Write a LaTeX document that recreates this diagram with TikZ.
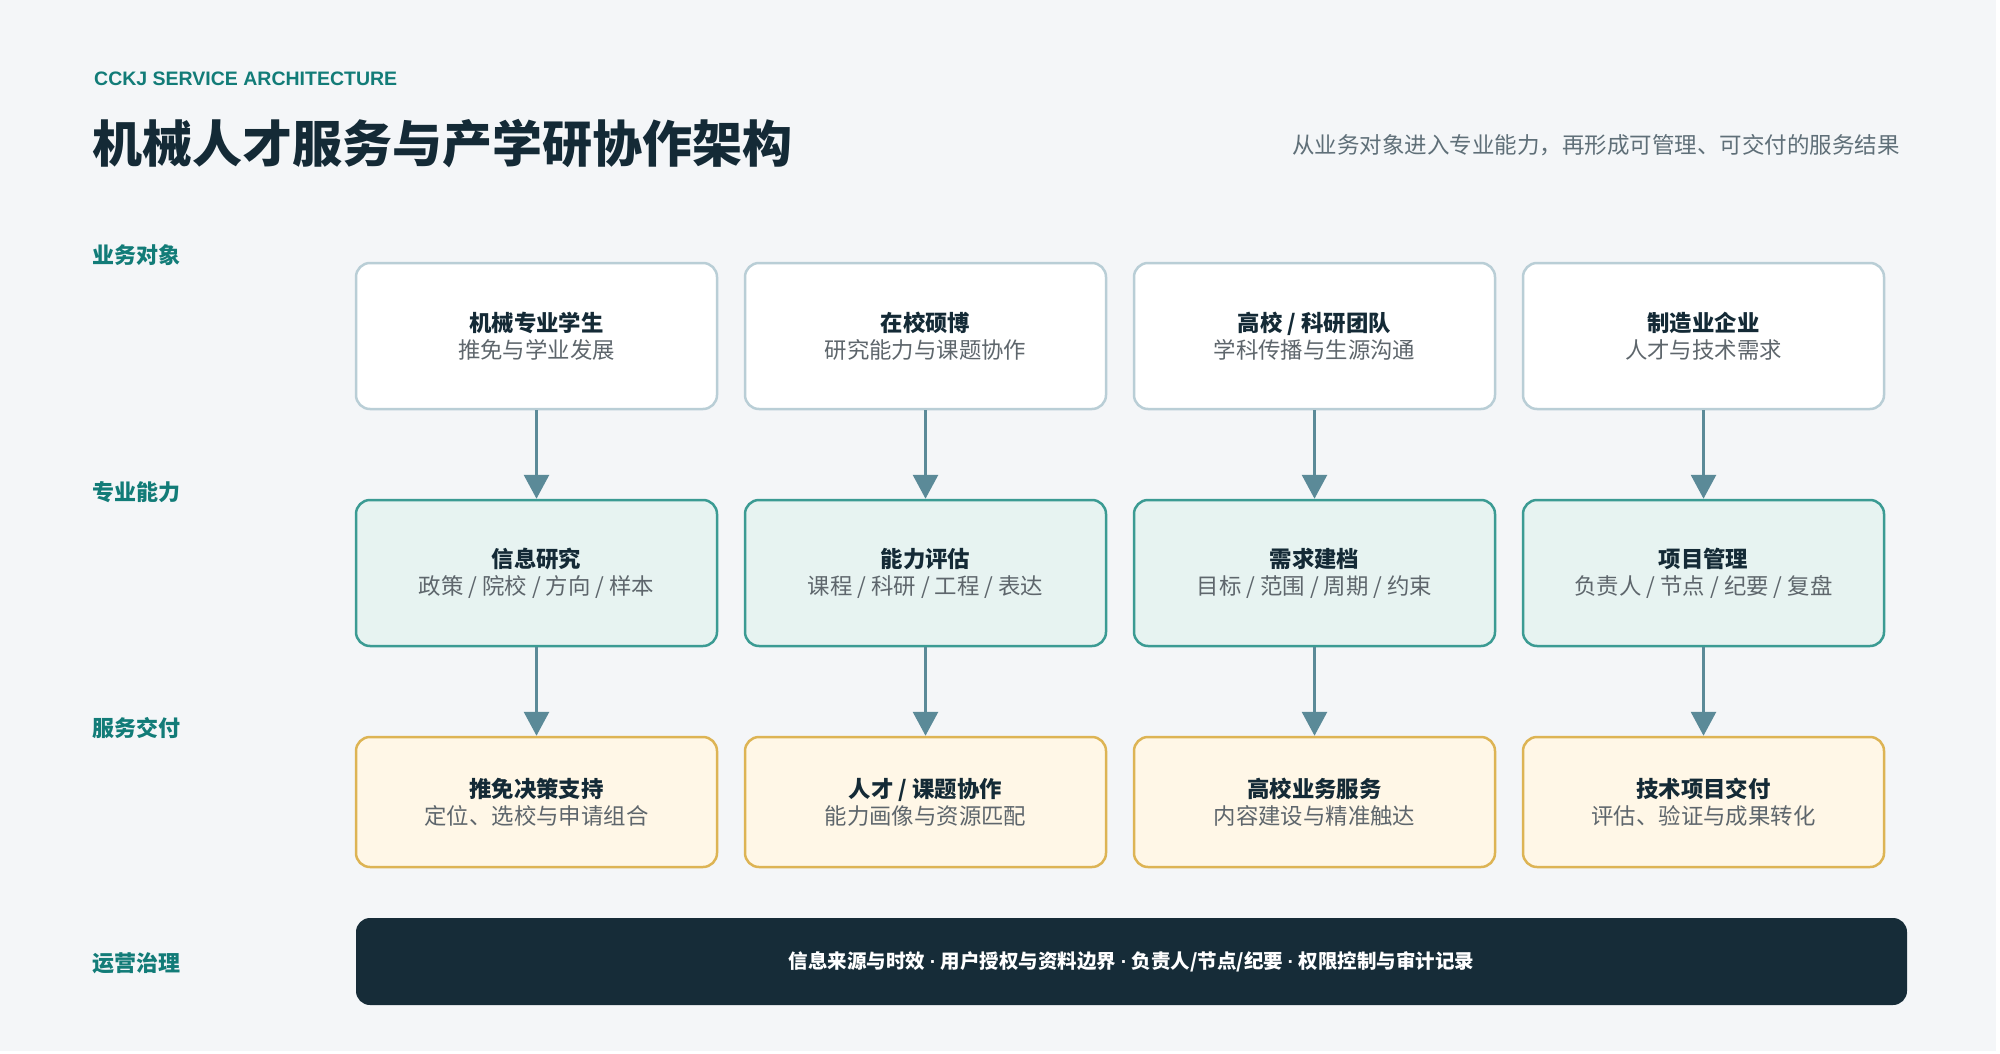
\documentclass[tikz,border=0pt]{standalone}
\usepackage{fontspec}
\setmainfont{Noto Sans CJK SC}
\newfontfamily\latinsans{Liberation Sans}
\usetikzlibrary{arrows.meta}
\definecolor{bgc}{HTML}{F4F6F8}
\definecolor{tealtxt}{HTML}{127C78}
\definecolor{ink}{HTML}{142A36}
\definecolor{subgray}{HTML}{5F6F78}
\definecolor{boxsub}{HTML}{5E666C}
\definecolor{objdraw}{HTML}{B9CED6}
\definecolor{capdraw}{HTML}{3B9B93}
\definecolor{capfill}{HTML}{E7F3F1}
\definecolor{deldraw}{HTML}{DDB454}
\definecolor{delfill}{HTML}{FFF7E7}
\definecolor{arrc}{HTML}{5B8A98}
\definecolor{barfill}{HTML}{162C38}
\tikzset{
  basebox/.style={line width=2.5pt, rounded corners=14pt, minimum width=361pt, inner sep=0pt, align=center, font=\fontsize{22.4}{27}\selectfont},
  objbox/.style={basebox, draw=objdraw, fill=white, minimum height=146pt},
  capbox/.style={basebox, draw=capdraw, fill=capfill, minimum height=146pt},
  delbox/.style={basebox, draw=deldraw, fill=delfill, minimum height=130pt},
  rowlabel/.style={anchor=west, text=tealtxt, font=\fontsize{22}{26}\selectfont\bfseries, inner sep=0pt},
  flowarrow/.style={draw=arrc, line width=3pt, -{Triangle[length=24pt,width=25pt]}},
}
\newcommand{\boxtext}[2]{{\bfseries\color{ink}#1}\\{\color{boxsub}#2}}
\newcommand{\sepdot}{\ {\latinsans\char"00B7}\ }
\begin{document}
\begin{tikzpicture}[x=1pt,y=-1pt]
\path[use as bounding box, fill=white] (0,0) rectangle (2000,1054);
\fill[bgc] (0,0) rectangle (1996,1051);
% header
\node[anchor=west, inner sep=0pt, text=tealtxt, font=\latinsans\fontsize{19.5}{23}\selectfont\bfseries] (kicker) at (94,79) {CCKJ SERVICE ARCHITECTURE};
\node[anchor=west, inner sep=0pt, text=ink, font=\fontsize{50}{58}\selectfont\bfseries] (title) at (92,144) {机械人才服务与产学研协作架构};
\node[anchor=east, inner sep=0pt, text=subgray, font=\fontsize{22.5}{26}\selectfont] (subtitle) at (1900,145) {从业务对象进入专业能力，再形成可管理、可交付的服务结果};
% row labels
\node[rowlabel] (l1) at (92,255) {业务对象};
\node[rowlabel] (l2) at (92,492) {专业能力};
\node[rowlabel] (l3) at (92,728) {服务交付};
\node[rowlabel] (l4) at (92,963) {运营治理};
% row 1
\node[objbox] (a1) at (536.5,336) {\boxtext{机械专业学生}{推免与学业发展}};
\node[objbox] (a2) at (925.5,336) {\boxtext{在校硕博}{研究能力与课题协作}};
\node[objbox] (a3) at (1314.5,336) {\boxtext{高校 / 科研团队}{学科传播与生源沟通}};
\node[objbox] (a4) at (1703.5,336) {\boxtext{制造业企业}{人才与技术需求}};
% row 2
\node[capbox] (b1) at (536.5,573) {\boxtext{信息研究}{政策 / 院校 / 方向 / 样本}};
\node[capbox] (b2) at (925.5,573) {\boxtext{能力评估}{课程 / 科研 / 工程 / 表达}};
\node[capbox] (b3) at (1314.5,573) {\boxtext{需求建档}{目标 / 范围 / 周期 / 约束}};
\node[capbox] (b4) at (1703.5,573) {\boxtext{项目管理}{负责人 / 节点 / 纪要 / 复盘}};
% row 3
\node[delbox] (c1) at (536.5,802) {\boxtext{推免决策支持}{定位、选校与申请组合}};
\node[delbox] (c2) at (925.5,802) {\boxtext{人才 / 课题协作}{能力画像与资源匹配}};
\node[delbox] (c3) at (1314.5,802) {\boxtext{高校业务服务}{内容建设与精准触达}};
\node[delbox] (c4) at (1703.5,802) {\boxtext{技术项目交付}{评估、验证与成果转化}};
% governance bar
\node[fill=barfill, rounded corners=14pt, minimum width=1551pt, minimum height=87pt, inner sep=0pt, text=white, font=\fontsize{19.5}{23}\selectfont\bfseries] (gov) at (1131.5,961.5) {信息来源与时效\sepdot 用户授权与资料边界\sepdot 负责人/节点/纪要\sepdot 权限控制与审计记录};
% arrows
\foreach \i in {1,2,3,4}{
  \draw[flowarrow] (a\i.south) -- (b\i.north);
  \draw[flowarrow] (b\i.south) -- (c\i.north);
}
\end{tikzpicture}
\end{document}
